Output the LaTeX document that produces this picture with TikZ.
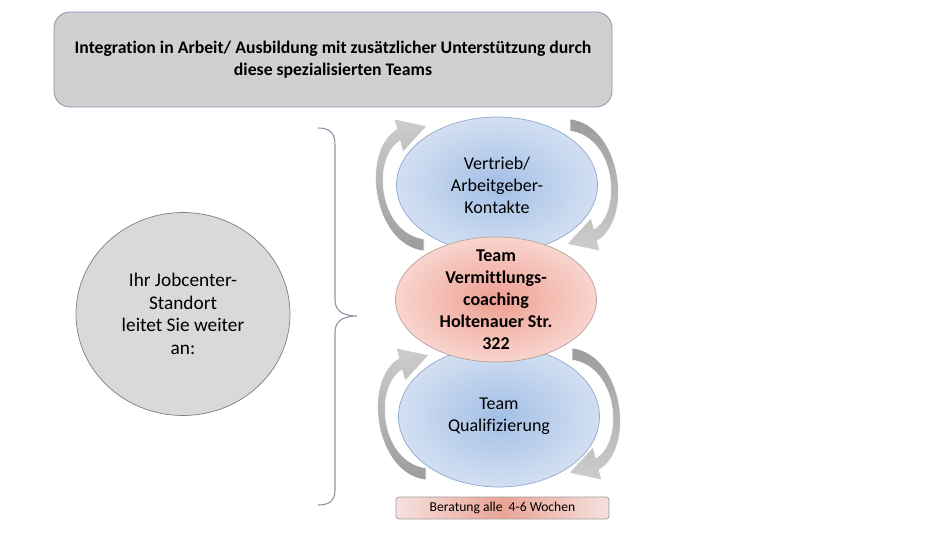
\documentclass[tikz,border=0pt]{standalone}
\usepackage{fontspec}
\setmainfont[Ligatures=NoCommon]{Carlito}
\usetikzlibrary{shapes.geometric}
\definecolor{boxfill}{HTML}{D0D0D0}
\definecolor{boxline}{HTML}{8497B0}
\definecolor{circfill}{HTML}{D9D9D9}
\definecolor{circline}{HTML}{7F7F7F}
\definecolor{blueinner}{HTML}{A3BFE6}
\definecolor{blueouter}{HTML}{D2DFF2}
\definecolor{blueline}{HTML}{8FA8CC}
\definecolor{pinkinner}{HTML}{EE9E90}
\definecolor{pinkouter}{HTML}{F8D5CE}
\definecolor{pinkline}{HTML}{B9A09B}
\definecolor{barside}{HTML}{F6E0DE}
\definecolor{barmid}{HTML}{E9A496}
\definecolor{barline}{HTML}{9C9C9C}
\definecolor{arrlight}{HTML}{CDCDCD}
\definecolor{arrdark}{HTML}{9C9C9C}
\definecolor{braceline}{HTML}{8C95A3}
\begin{document}
\begin{tikzpicture}[x=1pt,y=-1pt,
  titlebox/.style={draw=boxline, line width=0.8pt, fill=boxfill, rounded corners=16pt,
    minimum width=558pt, minimum height=95pt, inner sep=0pt, align=center,
    font=\bfseries\fontsize{17.7}{22}\selectfont},
  jcbubble/.style={ellipse, draw=circline, line width=0.7pt, fill=circfill,
    minimum width=214pt, minimum height=203pt, inner sep=0pt, align=center,
    font=\fontsize{19.3}{22.5}\selectfont},
  blueell/.style={ellipse, draw=blueline, line width=0.7pt, inner color=blueinner,
    outer color=blueouter, minimum width=201pt, inner sep=0pt},
  pinkell/.style={ellipse, draw=pinkline, line width=0.7pt, inner color=pinkinner,
    outer color=pinkouter, minimum width=201pt, minimum height=125pt, inner sep=0pt},
  elltext/.style={align=center, inner sep=0pt, font=\fontsize{18}{22}\selectfont},
  barbox/.style={draw=barline, line width=0.7pt, rounded corners=3pt,
    left color=barside, right color=barside, middle color=barmid,
    minimum width=213pt, minimum height=22pt, inner sep=0pt,
    font=\fontsize{13.6}{15}\selectfont},
  arrL/.style={draw=white, line width=0.6pt, top color=arrlight, bottom color=arrdark},
  arrR/.style={draw=white, line width=0.6pt, top color=arrdark, bottom color=arrlight},
  cyc/.pic={
    \path[arrL] (-73,66) .. controls (-125,60) and (-137,-35) .. (-100,-56)
      -- (-103,-66) -- (-70,-59) -- (-94,-33) -- (-97,-44)
      .. controls (-125,-27) and (-119,47) .. (-73,54) -- cycle;
    \begin{scope}[rotate=180]
    \path[arrR] (-73,66) .. controls (-125,60) and (-137,-35) .. (-100,-56)
      -- (-103,-66) -- (-70,-59) -- (-94,-33) -- (-97,-44)
      .. controls (-125,-27) and (-119,47) .. (-73,54) -- cycle;
    \end{scope}
  }]
\useasboundingbox (0,0) rectangle (945,533);

\node[titlebox] (title) at (333,59.5)
  {Integration in Arbeit/ Ausbildung mit zusätzlicher Unterstützung durch\\diese spezialisierten Teams};

\node[jcbubble] (jc) at (183,314) {Ihr Jobcenter-\\Standort\\leitet Sie weiter\\an:};

\draw[braceline, line width=1.1pt] (318,128) .. controls (330,128) and (335,133) .. (335,145)
  -- (335,300) .. controls (335,310) and (342,316) .. (357,316)
  .. controls (342,316) and (335,322) .. (335,332)
  -- (335,490) .. controls (335,500) and (330,505) .. (318,505);

\node[blueell, minimum height=136pt] (vertrieb) at (497,185) {};
\node[blueell, minimum height=141pt] (quali) at (499,416.5) {};
\node[pinkell] (team) at (496,299.5) {};

\node[elltext] (vertriebtxt) at (vertrieb.center) {Vertrieb/\\Arbeitgeber-\\Kontakte};
\node[elltext] (qualitxt) at (quali.center) {Team\\Qualifizierung};
\node[elltext, font=\bfseries\fontsize{18}{22}\selectfont] (teamtxt) at (team.center)
  {Team\\Vermittlungs-\\coaching\\Holtenauer Str.\\322};

\pic at (497,185) {cyc};
\pic at (499,414) {cyc};

\node[barbox] (beratung) at (502.5,508) {Beratung alle\ \ 4-6 Wochen};
\end{tikzpicture}
\end{document}
